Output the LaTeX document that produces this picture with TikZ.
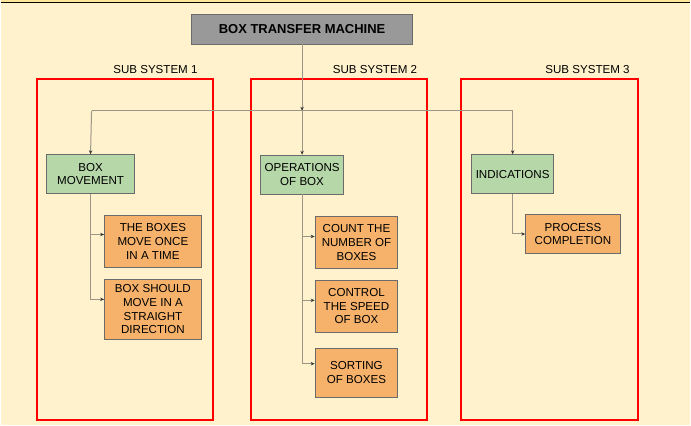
\documentclass[tikz,border=0pt]{standalone}
\usepackage{fontspec}
\setmainfont{Liberation Sans}
\usetikzlibrary{arrows.meta,calc}
\definecolor{papier}{HTML}{FFF2CC}
\definecolor{rand}{HTML}{FFE599}
\definecolor{kopf}{HTML}{999999}
\definecolor{gruen}{HTML}{B6D7A8}
\definecolor{orange}{HTML}{F6B26B}
\definecolor{rahmen}{HTML}{6B6B6B}
\definecolor{leitung}{HTML}{9A9585}
\definecolor{spitze}{HTML}{333333}
\definecolor{rot}{HTML}{FF0000}
\tikzset{
  txt/.style={font=\fontsize{11.6}{13.6}\selectfont,align=center,inner sep=0pt},
  titel/.style={txt,fill=kopf,draw=rahmen,line width=0.8pt,font=\fontsize{13}{15}\selectfont\bfseries},
  haupt/.style={txt,fill=gruen,draw=rahmen,line width=0.8pt},
  teil/.style={txt,fill=orange,draw=rahmen,line width=0.8pt},
  sub/.style={draw=rot,line width=2pt,inner sep=0pt},
  pfeil/.style={-{Stealth[length=4pt,width=3.4pt,color=spitze]},leitung,line width=1pt},
  leit/.style={leitung,line width=1pt},
}
\begin{document}
\begin{tikzpicture}[x=1pt,y=-1pt]
  \fill[papier] (0,0) rectangle (691,426);
  \fill[rand] (0,0) rectangle (691,2);
  \draw[black,line width=1.5pt] (0,2.5)--(691,2.5);
  \useasboundingbox (0,0) rectangle (691,426);
  % sub systems
  \node[sub,minimum width=177,minimum height=342] (ss1) at (124.5,250) {};
  \node[sub,minimum width=177,minimum height=342] (ss2) at (339,250) {};
  \node[sub,minimum width=177,minimum height=342] (ss3) at (550,250) {};
  \node[txt] (l1) at (155,70) {SUB SYSTEM 1};
  \node[txt] (l2) at (375,70) {SUB SYSTEM 2};
  \node[txt] (l3) at (588,70) {SUB SYSTEM 3};
  % machine
  \node[titel,minimum width=222,minimum height=30] (bt) at (302,29) {BOX TRANSFER MACHINE};
  \coordinate (bus) at (302,111);
  \coordinate (busl) at (91,111);
  \coordinate (busr) at (513,111);
  % main blocks
  \node[haupt,minimum width=88,minimum height=39] (gm) at (90,174.5) {BOX\\MOVEMENT};
  \node[haupt,minimum width=83,minimum height=39] (go) at (302,175) {OPERATIONS\\OF BOX};
  \node[haupt,minimum width=82,minimum height=39] (gi) at (513,174.5) {INDICATIONS};
  % tasks
  \node[teil,minimum width=97,minimum height=52] (o11) at (152.5,242) {THE BOXES\\MOVE ONCE\\IN A TIME};
  \node[teil,minimum width=97,minimum height=60] (o12) at (152.5,310) {BOX SHOULD\\MOVE IN A\\STRAIGHT\\DIRECTION};
  \node[teil,minimum width=83,minimum height=52] (o21) at (356.5,243) {COUNT THE\\NUMBER OF\\BOXES};
  \node[teil,minimum width=83,minimum height=52] (o22) at (356.5,307) {CONTROL\\THE SPEED\\OF BOX};
  \node[teil,minimum width=83,minimum height=49] (o23) at (356.5,373.5) {SORTING\\OF BOXES};
  \node[teil,minimum width=95,minimum height=39] (o31) at (573.5,234.5) {PROCESS\\COMPLETION};
  % connectors
  \draw[pfeil] (bt.south) -- (bus);
  \draw[leit] (busl) -- (busr);
  \draw[pfeil] (busl) -- (gm.north);
  \draw[pfeil] (bus) -- (go.north);
  \draw[pfeil] (busr) -- (gi.north);
  \draw[pfeil] (gm.south) |- ([yshift=7]o11.west);
  \draw[pfeil] (gm.south) |- ([yshift=10]o12.west);
  \draw[pfeil] (go.south) |- ([yshift=6]o21.west);
  \draw[pfeil] (go.south) |- ([yshift=6]o22.west);
  \draw[pfeil] (go.south) |- ([yshift=9]o23.west);
  \draw[pfeil] (gi.south) |- (o31.west);
\end{tikzpicture}
\end{document}
